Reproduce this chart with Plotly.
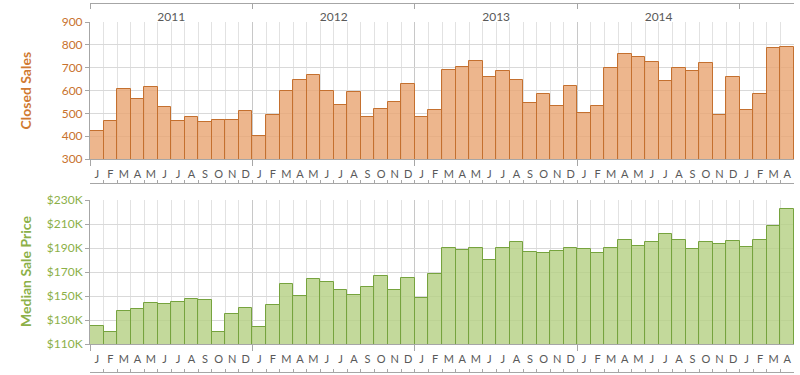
import plotly.graph_objects as go

month_labels = ["J", "F", "M", "A", "M", "J", "J", "A", "S", "O", "N", "D"] * 4 + ["J", "F", "M", "A"]
year_labels = ["2011", "2012", "2013", "2014"]

closed_sales = [424, 467, 606, 564, 617, 527, 467, 486, 463, 469, 469, 511,
                399, 494, 598, 645, 667, 598, 536, 593, 486, 520, 550, 628,
                482, 514, 690, 702, 731, 658, 684, 645, 545, 585, 530, 620,
                501, 532, 698, 759, 746, 727, 642, 698, 687, 722, 492, 658,
                514, 584, 788, 789]

median_price = [124700, 120000, 137200, 139200, 144200, 143000, 145000, 147800, 146400, 119700, 135000, 140300,
                124200, 142200, 160300, 150300, 163900, 161400, 155300, 151100, 157500, 166700, 155300, 165300,
                148300, 168100, 190300, 188100, 190300, 180300, 189700, 195300, 186400, 185800, 187500, 190300,
                189200, 185600, 189700, 196700, 191900, 195300, 201700, 196400, 189400, 195300, 193300, 195800,
                190600, 196400, 208100, 222500]

sales_ticks = [300, 400, 500, 600, 700, 800, 900]
price_ticks = [110000, 130000, 150000, 170000, 190000, 210000, 230000]
price_tick_text = ["$110K", "$130K", "$150K", "$170K", "$190K", "$210K", "$230K"]

n = len(closed_sales)
x = list(range(n))
xr = [-0.5, n - 0.5]
year_centers = [12 * i + 5.5 for i in range(len(year_labels))]
year_bounds = [12 * i - 0.5 for i in range(len(year_labels))]

ORANGE_T = "#C8722E"
GREEN_T = "#8CB048"
GRAY = "#595959"
AX = "#A6A6A6"
FONT = "Lato"

fig = go.Figure()
fig.add_trace(go.Bar(x=x, y=closed_sales, width=1, xaxis="x", yaxis="y",
                     marker=dict(color="rgba(233,164,112,0.80)", line=dict(color="#C4702F", width=1)),
                     showlegend=False, hoverinfo="x+y"))
fig.add_trace(go.Bar(x=x, y=median_price, width=1, xaxis="x2", yaxis="y2",
                     marker=dict(color="rgba(182,209,133,0.82)", line=dict(color="#76A33E", width=1)),
                     showlegend=False, hoverinfo="x+y"))
# empty helper traces so the decorative overlay axes get drawn
for xa, ya in [("x3", "y"), ("x4", "y2"), ("x5", "y"), ("x6", "y2"), ("x7", "y")]:
    fig.add_trace(go.Scatter(x=[None], y=[None], xaxis=xa, yaxis=ya, showlegend=False,
                             hoverinfo="skip", mode="markers"))

H = 375.0
def p(ypx):
    return (H - ypx) / H

main_x = dict(range=xr, tickmode="array", tickvals=year_bounds, ticktext=[""] * len(year_bounds),
              ticks="outside", ticklen=6, tickcolor=AX, showgrid=True, gridcolor="#C8C8C8",
              showline=True, linecolor=AX, zeroline=False, automargin=False,
              minor=dict(tickmode="linear", tick0=-0.5, dtick=1, showgrid=True, gridcolor="#E2E2E2", ticks=""))
label_x = dict(range=xr, tickmode="array", tickvals=x, ticktext=month_labels, ticks="", showgrid=False,
               showline=False, zeroline=False, automargin=False,
               tickfont=dict(family=FONT, size=11, color=GRAY))
tick_line_x = dict(range=xr, tickmode="linear", tick0=-0.5, dtick=1, ticks="inside", ticklen=3,
                   tickcolor=AX, showticklabels=False, showgrid=False, showline=True,
                   linecolor=AX, zeroline=False, automargin=False)

fig.update_layout(
    width=800, height=375,
    margin=dict(l=90, r=6, t=0, b=0, pad=0),
    paper_bgcolor="white", plot_bgcolor="white",
    bargap=0, barmode="overlay",
    font=dict(family=FONT, color=GRAY),
    xaxis=dict(anchor="y", **main_x),
    xaxis2=dict(anchor="y2", **main_x),
    xaxis3=dict(overlaying="x", anchor="y", side="bottom", ticklabelstandoff=7, **label_x),
    xaxis4=dict(overlaying="x2", anchor="y2", side="bottom", ticklabelstandoff=7, **label_x),
    xaxis5=dict(overlaying="x", anchor="free", position=p(183), side="bottom", **tick_line_x),
    xaxis6=dict(overlaying="x2", anchor="free", position=p(372), side="bottom", **tick_line_x),
    xaxis7=dict(overlaying="x", anchor="free", position=p(3), side="bottom", range=xr,
                tickmode="array", tickvals=year_centers, ticktext=year_labels, ticks="",
                ticklabelstandoff=3, automargin=False,
                tickfont=dict(family=FONT, size=12, color=GRAY), showgrid=False, showline=True,
                linecolor=AX, zeroline=False,
                minor=dict(tickmode="linear", tick0=-0.5, dtick=12, ticks="outside", ticklen=5,
                           tickcolor=AX, showgrid=False)),
    yaxis=dict(domain=[p(159), p(22)], range=[300, 900], tickmode="array", tickvals=sales_ticks,
               ticks="outside", ticklen=4, tickcolor=AX, showline=True, linecolor=AX, automargin=False,
               gridcolor="#D9D9D9", zeroline=False, tickfont=dict(family=FONT, size=12, color=ORANGE_T)),
    yaxis2=dict(domain=[p(344), p(200)], range=[110000, 230000], tickmode="array", tickvals=price_ticks,
                ticktext=price_tick_text, ticks="outside", ticklen=4, tickcolor=AX, showline=True,
                linecolor=AX, gridcolor="#D9D9D9", zeroline=False, automargin=False,
                tickfont=dict(family=FONT, size=12, color=GREEN_T)),
    annotations=[
        dict(text="<b>Closed Sales</b>", textangle=-90, xref="paper", yref="paper",
             x=(25 - 90) / 704.0, y=(p(159) + p(22)) / 2, xanchor="center", yanchor="middle",
             showarrow=False, font=dict(family=FONT, size=14, color="#D07A32")),
        dict(text="<b>Median Sale Price</b>", textangle=-90, xref="paper", yref="paper",
             x=(25 - 90) / 704.0, y=(p(344) + p(200)) / 2, xanchor="center", yanchor="middle",
             showarrow=False, font=dict(family=FONT, size=14, color="#8CB048")),
    ],
)

fig.write_html("out.html", config={"displayModeBar": False},
               post_script="document.body.style.margin='0';document.body.style.overflow='hidden';")
